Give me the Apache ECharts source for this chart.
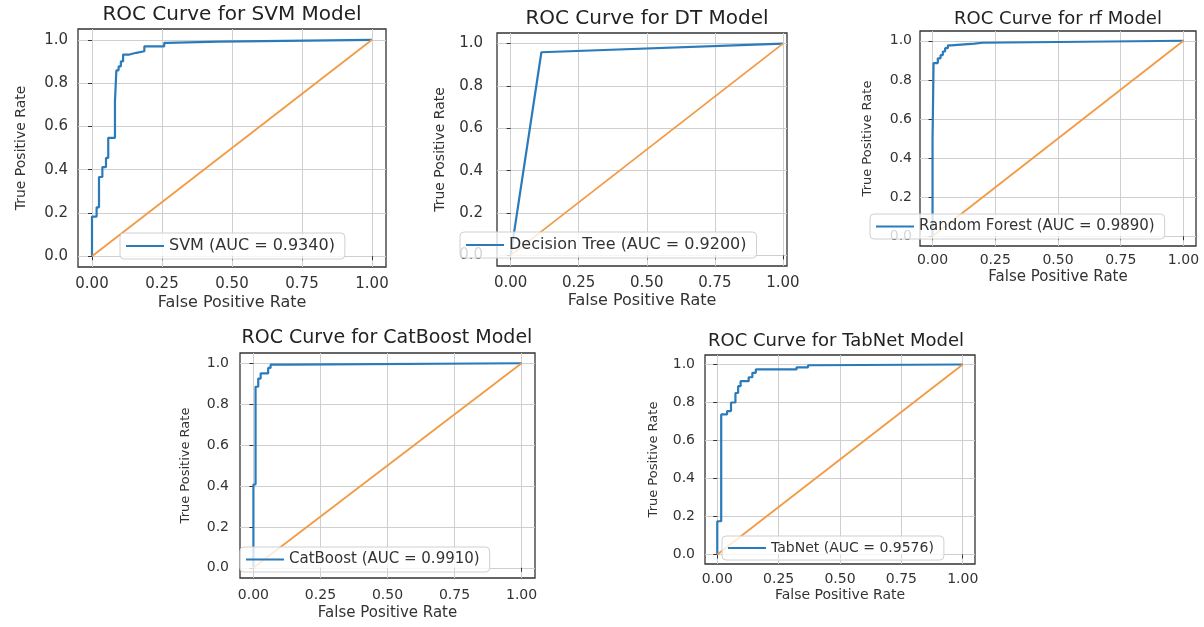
<!DOCTYPE html>
<html>
<head>
<meta charset="utf-8">
<title>ROC Curves</title>
<script src="https://cdn.jsdelivr.net/npm/echarts@6/dist/echarts.min.js"></script>
<style>
    html, body { margin: 0; padding: 0; background: #fff; }
    #chart { width: 1204px; height: 627px; }
</style>
</head>
<body>
<div id="chart"></div>
<script>
// ROC points (fpr / tpr)
var svmFpr = [0, 0, 0.0165, 0.0165, 0.025, 0.025, 0.037, 0.037, 0.05, 0.05, 0.058, 0.058, 0.082, 0.082, 0.087, 0.087, 0.095, 0.095, 0.103, 0.103, 0.111, 0.111, 0.134, 0.134, 0.158, 0.158, 0.187, 0.187, 0.258, 0.258, 0.268, 0.268, 0.453, 0.453, 1];
var svmTpr = [0, 0.183, 0.183, 0.226, 0.226, 0.366, 0.366, 0.412, 0.412, 0.454, 0.454, 0.547, 0.547, 0.715, 0.715, 0.859, 0.859, 0.877, 0.877, 0.9, 0.9, 0.932, 0.932, 0.94, 0.94, 0.947, 0.947, 0.97, 0.97, 0.986, 0.986, 0.992, 0.992, 1, 1];

var dtFpr = [0, 0.113, 1];
var dtTpr = [0, 0.959, 1];

var rfFpr = [0, 0, 0.004, 0.004, 0.021, 0.021, 0.032, 0.032, 0.041, 0.041, 0.05, 0.05, 0.061, 0.061, 0.074, 0.074, 0.167, 0.167, 0.2, 0.2, 1];
var rfTpr = [0, 0.492, 0.492, 0.886, 0.886, 0.91, 0.91, 0.927, 0.927, 0.945, 0.945, 0.962, 0.962, 0.976, 0.976, 0.985, 0.985, 0.99, 0.99, 1, 1];

var catFpr = [0, 0, 0.008, 0.008, 0.018, 0.018, 0.027, 0.027, 0.055, 0.055, 0.064, 0.064, 0.13, 0.13, 1];
var catTpr = [0, 0.407, 0.407, 0.885, 0.885, 0.925, 0.925, 0.95, 0.95, 0.977, 0.977, 0.993, 0.993, 1, 1];

var tabFpr = [0, 0, 0.016, 0.016, 0.04, 0.04, 0.056, 0.056, 0.074, 0.074, 0.085, 0.085, 0.095, 0.095, 0.128, 0.128, 0.143, 0.143, 0.157, 0.157, 0.323, 0.323, 0.37, 0.37, 0.385, 0.385, 1];
var tabTpr = [0, 0.175, 0.175, 0.737, 0.737, 0.755, 0.755, 0.8, 0.8, 0.85, 0.85, 0.886, 0.886, 0.912, 0.912, 0.933, 0.933, 0.956, 0.956, 0.974, 0.974, 0.985, 0.985, 0.996, 0.996, 1, 1];

var chanceFpr = [0, 1];
var chanceTpr = [0, 1];

var modelNames = ["SVM", "DT", "rf", "CatBoost", "TabNet"];
var legendNames = [
    "SVM (AUC = 0.9340)",
    "Decision Tree (AUC = 0.9200)",
    "Random Forest (AUC = 0.9890)",
    "CatBoost (AUC = 0.9910)",
    "TabNet (AUC = 0.9576)"
];
var xTicks = [0, 0.25, 0.5, 0.75, 1];
var yTicks = [0, 0.2, 0.4, 0.6, 0.8, 1];

var rocFpr = [svmFpr, dtFpr, rfFpr, catFpr, tabFpr];
var rocTpr = [svmTpr, dtTpr, rfTpr, catTpr, tabTpr];

var FONT = "DejaVu Sans";
var BLUE = "#2b7bba";
var ORANGE = "#f39a44";

// placement of each panel
var panels = [
    { grid: { left: 78, top: 29, width: 308, height: 238 }, xMax: 1.05, titleX: 232, titleY: 5, fs: 1,
      xLabelMargin: 10, xNameGap: 28, yLabelMargin: 10, yNameGap: 50, legend: { left: 120, top: 233 } },
    { grid: { left: 497, top: 33, width: 290, height: 233 }, xMax: 1.015, titleX: 647, titleY: 9, fs: 1,
      xLabelMargin: 10, xNameGap: 27, yLabelMargin: 14, yNameGap: 50, legend: { left: 460, top: 232 } },
    { grid: { left: 920, top: 31, width: 276, height: 215 }, xMax: 1.05, titleX: 1058, titleY: 10, fs: 0.92,
      xLabelMargin: 7, xNameGap: 24, yLabelMargin: 8, yNameGap: 46, legend: { left: 870, top: 214 } },
    { grid: { left: 240, top: 353, width: 295, height: 225 }, xMax: 1.05, titleX: 387, titleY: 329, fs: 0.96,
      xLabelMargin: 10, xNameGap: 28, yLabelMargin: 11, yNameGap: 48, legend: { left: 240, top: 547 } },
    { grid: { left: 705, top: 355, width: 270, height: 209 }, xMax: 1.05, titleX: 836, titleY: 332, fs: 0.9,
      xLabelMargin: 8, xNameGap: 24, yLabelMargin: 10, yNameGap: 45, legend: { left: 722, top: 536 } }
];

function toPoints(xs, ys) {
    return xs.map(function(x, i) {
        return [x, ys[i]];
    });
}

var grids = [], xAxes = [], yAxes = [], series = [], titles = [], legends = [];

panels.forEach(function(p, i) {
    var tickFont = Math.round(15 * p.fs);
    grids.push({
        left: p.grid.left,
        top: p.grid.top,
        width: p.grid.width,
        height: p.grid.height,
        show: true,
        borderColor: "#333",
        borderWidth: 1.3,
        containLabel: false
    });
    xAxes.push({
        type: "value",
        gridIndex: i,
        min: -0.05,
        max: p.xMax,
        axisLine: { show: false },
        axisTick: { show: true, inside: false, length: 4, customValues: xTicks, lineStyle: { color: "#333" } },
        axisLabel: {
            customValues: xTicks,
            formatter: function(v) { return v.toFixed(2); },
            margin: p.xLabelMargin,
            fontSize: tickFont,
            fontFamily: FONT,
            color: "#333"
        },
        splitLine: { show: true, lineStyle: { color: "#cfcfcf", width: 1 } },
        name: "False Positive Rate",
        nameLocation: "middle",
        nameGap: p.xNameGap,
        nameTextStyle: { fontSize: Math.round(16 * p.fs), fontFamily: FONT, color: "#333" }
    });
    yAxes.push({
        type: "value",
        gridIndex: i,
        min: -0.05,
        max: 1.05,
        axisLine: { show: false },
        axisTick: { show: true, inside: false, length: 4, customValues: yTicks, lineStyle: { color: "#333" } },
        axisLabel: {
            customValues: yTicks,
            formatter: function(v) { return v.toFixed(1); },
            margin: p.yLabelMargin,
            fontSize: tickFont,
            fontFamily: FONT,
            color: "#333"
        },
        splitLine: { show: true, lineStyle: { color: "#cfcfcf", width: 1 } },
        name: "True Positive Rate",
        nameLocation: "middle",
        nameGap: p.yNameGap,
        nameTextStyle: { fontSize: Math.round(14 * p.fs), fontFamily: FONT, color: "#333" }
    });
    series.push({
        name: legendNames[i],
        type: "line",
        xAxisIndex: i,
        yAxisIndex: i,
        data: toPoints(rocFpr[i], rocTpr[i]),
        symbol: "none",
        showSymbol: false,
        color: BLUE,
        lineStyle: { color: BLUE, width: 2.2 },
        z: 2
    });
    series.push({
        name: "chance " + modelNames[i],
        type: "line",
        xAxisIndex: i,
        yAxisIndex: i,
        data: toPoints(chanceFpr, chanceTpr),
        symbol: "none",
        showSymbol: false,
        color: ORANGE,
        lineStyle: { color: ORANGE, width: 1.8 },
        z: 2
    });
    titles.push({
        text: "ROC Curve for " + modelNames[i] + " Model",
        left: p.titleX,
        top: p.titleY,
        textAlign: "center",
        padding: 0,
        textStyle: { fontSize: Math.round(20 * p.fs), fontWeight: "normal", fontFamily: FONT, color: "#222" }
    });
    legends.push({
        data: [legendNames[i]],
        left: p.legend.left,
        top: p.legend.top,
        selectedMode: false,
        icon: "rect",
        itemWidth: 38,
        itemHeight: 2,
        backgroundColor: "rgba(255,255,255,0.8)",
        borderColor: "#d0d0d0",
        borderWidth: 1,
        borderRadius: 4,
        padding: [5, 10, 5, 6],
        z: 5,
        textStyle: { fontSize: Math.round(16 * p.fs), fontFamily: FONT, color: "#333" }
    });
});

var chart = echarts.init(document.getElementById("chart"));
chart.setOption({
    animation: false,
    backgroundColor: "#fff",
    title: titles,
    legend: legends,
    grid: grids,
    xAxis: xAxes,
    yAxis: yAxes,
    series: series
});
</script>
</body>
</html>
